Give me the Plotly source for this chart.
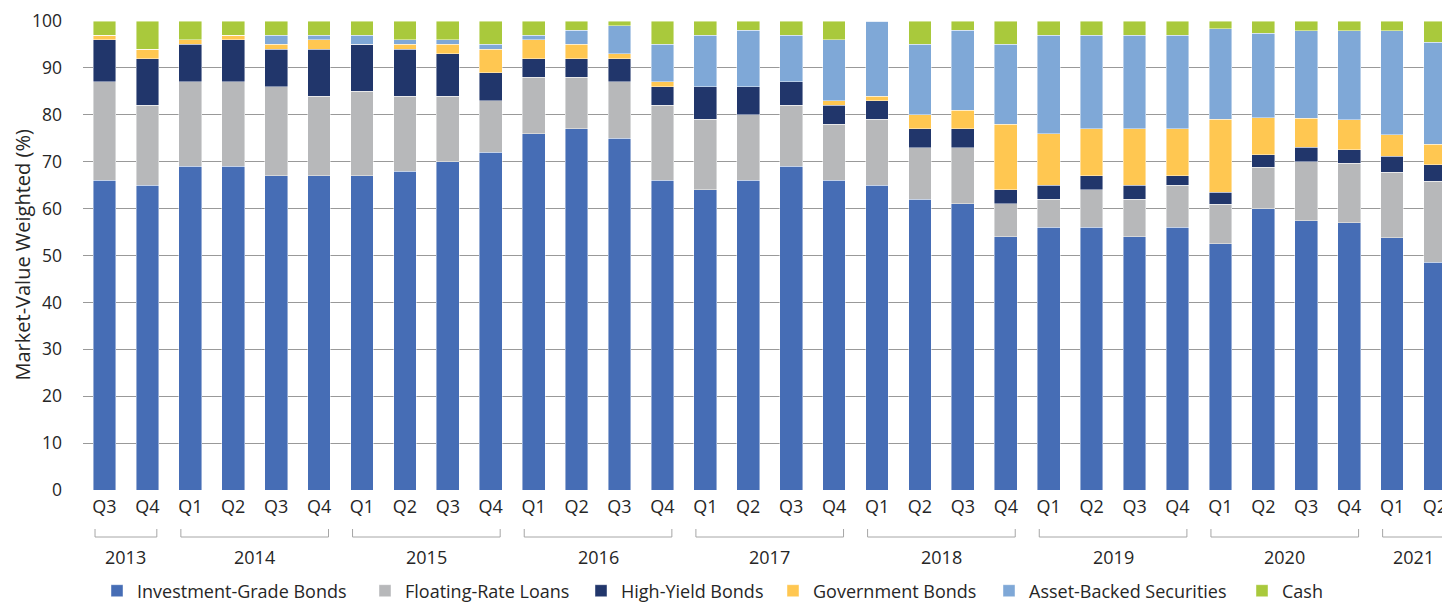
import plotly.graph_objects as go

years = ["2013", "2014", "2015", "2016", "2017", "2018", "2019", "2020", "2021"]
quarters = ["Q3", "Q4",
            "Q1", "Q2", "Q3", "Q4",
            "Q1", "Q2", "Q3", "Q4",
            "Q1", "Q2", "Q3", "Q4",
            "Q1", "Q2", "Q3", "Q4",
            "Q1", "Q2", "Q3", "Q4",
            "Q1", "Q2", "Q3", "Q4",
            "Q1", "Q2", "Q3", "Q4",
            "Q1", "Q2"]
quarter_year = (["2013"] * 2 + ["2014"] * 4 + ["2015"] * 4 + ["2016"] * 4 + ["2017"] * 4
                + ["2018"] * 4 + ["2019"] * 4 + ["2020"] * 4 + ["2021"] * 2)

investment_grade = [66, 65, 69, 69, 67, 67, 67, 68, 70, 72, 76, 77, 75, 66, 64, 66,
                    69, 66, 65, 62, 61, 54, 56, 56, 54, 56, 52.5, 60, 57.4, 57, 53.8, 48.6]
floating_rate = [21, 17, 18, 18, 19, 17, 18, 16, 14, 11, 12, 11, 12, 16, 15, 14,
                 13, 12, 14, 11, 12, 7, 6, 8, 8, 9, 8.4, 8.8, 12.6, 12.7, 14, 17.2]
high_yield = [9, 10, 8, 9, 8, 10, 10, 10, 9, 6, 4, 4, 5, 4, 7, 6,
              5, 4, 4, 4, 4, 3, 3, 3, 3, 2, 2.6, 2.7, 3.1, 2.8, 3.4, 3.5]
government = [1, 2, 1, 1, 1, 2, 0, 1, 2, 5, 4, 3, 1, 1, 0, 0,
              0, 1, 1, 3, 4, 14, 11, 10, 12, 10, 15.5, 7.9, 6.2, 6.4, 4.5, 4.4]
asset_backed = [0, 0, 0, 0, 2, 1, 2, 1, 1, 1, 1, 3, 6, 8, 11, 12,
                10, 13, 16, 15, 17, 17, 21, 20, 20, 20, 19.4, 18.0, 18.6, 19.0, 22.2, 21.8]
cash = [3, 6, 4, 3, 3, 3, 3, 4, 4, 5, 3, 2, 1, 5, 3, 2,
        3, 4, 0, 5, 2, 5, 3, 3, 3, 3, 1.6, 2.6, 2.1, 2.1, 2.1, 4.5]

series_names = ["Investment-Grade Bonds", "Floating-Rate Loans", "High-Yield Bonds",
                "Government Bonds", "Asset-Backed Securities", "Cash"]
series_values = [investment_grade, floating_rate, high_yield, government, asset_backed, cash]
series_colors = ["#466db5", "#b7b8ba", "#21366b", "#ffc751", "#7fa8d7", "#a9c93c"]

FONT = "Open Sans"
TXT = "#262626"

# the page body adds an 8px offset; target screen positions are converted below
OFF = 8
W, H = 1450 - OFF, 604 - OFF
L = 83 - OFF
T = 21 - OFF
B = H - (490 - OFF)
R = 0
plot_w = W - L - R
plot_h = H - T - B
pitch = 42.92
x_idx = list(range(len(quarters)))


def py(screen_y):
    """screen pixel y -> paper y"""
    return (H - B - (screen_y - OFF)) / plot_h


def px(screen_x):
    """screen pixel x -> paper x"""
    return ((screen_x - OFF) - L) / plot_w


# legend text start positions (screen px) for each series
legend_text_px = [136, 404, 620, 812, 1028, 1281]

fig = go.Figure()
legend_ids = ["legend", "legend2", "legend3", "legend4", "legend5", "legend6"]
for name, vals, col, lid in zip(series_names, series_values, series_colors, legend_ids):
    fig.add_trace(go.Bar(
        x=x_idx, y=vals, name=name, showlegend=True,
        marker=dict(color=col, line=dict(color="rgba(255,255,255,0.55)", width=0.8)),
        legend=lid,
    ))

layout_legends = {}
for lid, tx in zip(legend_ids, legend_text_px):
    layout_legends[lid] = dict(
        x=px(tx - 39), xanchor="left",
        y=py(591), yanchor="middle",
        orientation="h", bgcolor="rgba(0,0,0,0)",
        font=dict(family=FONT, size=18, color=TXT),
        itemclick=False, itemdoubleclick=False,
    )

# year groups: brackets and labels
shapes = []
annotations = []
for yr in years:
    idx = [i for i, q in enumerate(quarter_year) if q == yr]
    x0, x1 = idx[0] - 0.22, idx[-1] + 0.22
    yb = py(537)
    yt = py(529)
    line = dict(color="#a6a6a6", width=1)
    shapes.append(dict(type="line", xref="x", yref="paper", x0=x0, x1=x1, y0=yb, y1=yb, line=line))
    shapes.append(dict(type="line", xref="x", yref="paper", x0=x0, x1=x0, y0=yb, y1=yt, line=line))
    shapes.append(dict(type="line", xref="x", yref="paper", x0=x1, x1=x1, y0=yb, y1=yt, line=line))
    annotations.append(dict(
        x=(idx[0] + idx[-1]) / 2, xref="x", y=py(557), yref="paper",
        text=yr, showarrow=False, xanchor="center", yanchor="middle",
        font=dict(family=FONT, size=18, color=TXT)))

annotations.append(dict(
    x=px(22), xref="paper", y=0.5, yref="paper",
    text="Market-Value Weighted (%)", textangle=-90, showarrow=False,
    xanchor="center", yanchor="middle", borderpad=0,
    font=dict(family=FONT, size=20, color=TXT)))

fig.update_layout(
    width=W, height=H,
    margin=dict(l=L, r=R, t=T, b=B, pad=0, autoexpand=False),
    paper_bgcolor="white", plot_bgcolor="white",
    barmode="stack", bargap=0.47,
    showlegend=True,
    font=dict(family=FONT, size=18, color=TXT),
    xaxis=dict(
        tickmode="array", tickvals=x_idx, ticktext=quarters,
        range=[-0.5, -0.5 + plot_w / pitch],
        showgrid=False, zeroline=False, showline=False,
        ticks="", ticklabelstandoff=4, automargin=False,
        tickfont=dict(family=FONT, size=18, color=TXT),
    ),
    yaxis=dict(
        range=[0, 100], dtick=10, tick0=0,
        showgrid=True, gridcolor="#999999", gridwidth=1.2,
        zeroline=False, showline=False, ticks="",
        ticklabelstandoff=20, automargin=False,
        tickfont=dict(family=FONT, size=17.5, color=TXT),
    ),
    shapes=shapes,
    annotations=annotations,
    **layout_legends,
)

fig.write_html("out.html")
